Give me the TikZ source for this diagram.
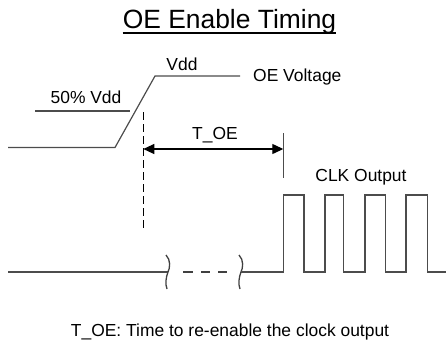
\documentclass[tikz,border=0pt]{standalone}
\usepackage{fontspec}
\setmainfont{Liberation Sans}
\usetikzlibrary{arrows.meta}
\begin{document}
\begin{tikzpicture}[x=1bp,y=-1bp,
  lbl/.style={inner sep=0pt,anchor=base,font=\fontsize{17.5}{20}\selectfont},
  wave/.style={draw=black!70,line width=1.2bp},
  brk/.style={draw=black!75,line width=1.3bp},
  tmark/.style={draw=black,line width=1.4bp,dash pattern=on 8bp off 4bp},
  dim/.style={draw=black,line width=1.2bp,{Triangle[length=11bp,width=10bp]}-{Triangle[length=11bp,width=10bp]}}]
\useasboundingbox (0,0) rectangle (446,343);
% title
\node[inner sep=0pt,anchor=base,font=\fontsize{26.5}{30}\selectfont] (title) at (229.5,28) {OE Enable Timing};
\draw[line width=1.4bp] ([yshift=-5bp]title.base west) -- ([yshift=-5bp]title.base east);
% labels
\node[lbl] (vdd) at (182,70) {Vdd};
\node[lbl,anchor=base west] (oev) at (253,81.7) {OE Voltage};
\node[lbl] (half) at (86,103.3) {50\% Vdd};
\node[lbl] (toe) at (215,139.3) {T\_OE};
\node[lbl] (clk) at (361,181) {CLK Output};
\node[lbl] (note) at (230,336.7) {T\_OE: Time to re-enable the clock output};
% OE voltage waveform
\coordinate (o0) at (8,147.5);
\coordinate (o1) at (115,147.5);
\coordinate (o2) at (155,76);
\coordinate (o3) at (240,76);
\draw[wave] (o0) -- (o1) -- (o2) -- (o3);
\coordinate (h0) at (35,111);
\coordinate (h1) at (130,111);
\draw[wave] (h0) -- (h1);
% timing markers
\coordinate (m0) at (143.3,112);
\coordinate (m1) at (143.3,229);
\draw[tmark] (m0) -- (m1);
\coordinate (a0) at (143.3,149);
\coordinate (a1) at (283.3,149);
\draw[dim] (a0) -- (a1);
\coordinate (t0) at (283.3,133);
\coordinate (t1) at (283.3,178);
\draw[wave] (t0) -- (t1);
% clock waveform
\coordinate (c0) at (8,272);
\coordinate (b1) at (168,272);
\draw[wave] (c0) -- (b1);
\draw[brk] (166,255) .. controls (171,260) and (170,268) .. (b1) .. controls (166,277) and (165,284) .. (167,289);
\coordinate (b2) at (241,272);
\draw[brk] (239,255) .. controls (244,260) and (243,268) .. (b2) .. controls (239,277) and (238,284) .. (240,289);
\draw[brk] (183,272) -- (193,272) (201,272) -- (210,272) (218,272) -- (227,272);
\coordinate (c1) at (283.3,272);
\draw[wave] (b2) -- (c1)
  |- (304,195) |- (325,272) |- (343.3,195) |- (365,272) |- (385.7,195)
  |- (406,272) |- (427.3,195) |- (446,272);
\end{tikzpicture}
\end{document}
